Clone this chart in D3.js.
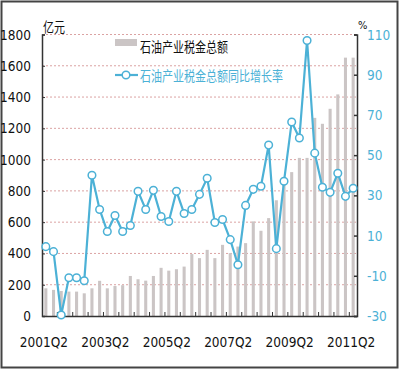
<!DOCTYPE html>
<html>
<head>
<meta charset="utf-8">
<script src="https://cdn.jsdelivr.net/npm/d3@7"></script>
<style>
  body { margin: 0; background: #fff; }
  svg { display: block; }
</style>
</head>
<body>
<svg width="400" height="370"></svg>
<script>
const quarters = [];
for (let y = 2001; y <= 2011; y++) {
    for (let q = 1; q <= 4; q++) {
        if ((y === 2001 && q < 2) || (y === 2011 && q > 2)) continue;
        quarters.push(y + "Q" + q);
    }
}

// 石油产业税金总额 (亿元)
const taxTotal = [177, 167, 160, 156, 156, 145, 177, 225, 177, 192, 197,
    256, 235, 226, 256, 308, 290, 299, 316, 396, 370, 423, 370, 455, 402,
    444, 466, 605, 545, 626, 740, 840, 920, 1011, 1011, 1267, 1229, 1325,
    1417, 1652, 1652];

// 同比增长率 (%)
const growth = [4.5, 2, -29.5, -11, -11, -12.5, 40, 23, 12, 20, 12, 15,
    32, 23, 32.5, 19.5, 17, 32, 21, 23, 30.5, 38.5, 16.5, 18, 8, -4.5, 25,
    33, 34.5, 55, 3.5, 37, 66.5, 58.5, 107, 51, 34, 31.5, 41, 29.5, 33.5];

const leftTicks = [0, 200, 400, 600, 800, 1000, 1200, 1400, 1600, 1800];
const rightTicks = [-30, -10, 10, 30, 50, 70, 90, 110];
const xLabels = ["2001Q2", "2003Q2", "2005Q2", "2007Q2", "2009Q2", "2011Q2"];

const svg = d3.select("svg");
const blue = "#4cb1d6";
const numFont = "'Liberation Sans Narrow', 'DejaVu Sans Condensed', sans-serif";
const cjkFont = "'Noto Sans CJK SC', sans-serif";

const plotL = 42, plotR = 357, plotT = 34.5, plotB = 316;

const x = d3.scaleBand().domain(quarters).range([plotL, plotR]).paddingInner(0.6).paddingOuter(0.3);
const yL = d3.scaleLinear().domain([0, 1800]).range([plotB, plotT]);
const yR = d3.scaleLinear().domain([-30, 110]).range([plotB, plotT]);
const cx = d => x(d) + x.bandwidth() / 2;

// outer frame
svg.append("rect")
    .attr("x", 1.5).attr("y", 1.5)
    .attr("width", 396).attr("height", 366)
    .attr("fill", "none")
    .attr("stroke", "#444")
    .attr("stroke-width", 2);

// grid
svg.append("g")
    .selectAll("line")
    .data(leftTicks.filter(d => d > 0))
    .join("line")
    .attr("x1", plotL).attr("x2", plotR)
    .attr("y1", d => yL(d)).attr("y2", d => yL(d))
    .attr("stroke", "#dba3a3")
    .attr("stroke-width", 1)
    .attr("stroke-dasharray", "2,2");

// bars
svg.append("g")
    .selectAll("rect")
    .data(taxTotal)
    .join("rect")
    .attr("x", (d, i) => x(quarters[i]))
    .attr("y", d => yL(d))
    .attr("width", x.bandwidth())
    .attr("height", d => plotB - yL(d))
    .attr("fill", "#cbc5c5");

// left axis
const axL = svg.append("g")
    .attr("transform", `translate(${plotL},0)`)
    .call(d3.axisRight(yL).tickValues(leftTicks).tickSize(3).tickFormat(""));
axL.select(".domain").attr("stroke", "#333").attr("stroke-width", 1.5);
axL.selectAll(".tick line").attr("stroke", "#333");

svg.append("g")
    .selectAll("text")
    .data(leftTicks)
    .join("text")
    .attr("x", 31)
    .attr("y", d => yL(d) + 5)
    .attr("text-anchor", "end")
    .attr("font-family", numFont)
    .attr("font-size", 13.5)
    .attr("fill", "#111")
    .text(d => d);

// right axis
const axR = svg.append("g")
    .attr("transform", `translate(${plotR},0)`)
    .call(d3.axisLeft(yR).tickValues(rightTicks).tickSize(3).tickFormat(""));
axR.select(".domain").attr("stroke", "#333").attr("stroke-width", 1.5);
axR.selectAll(".tick line").attr("stroke", "#333").attr("stroke-width", 1.5);

svg.append("g")
    .selectAll("text")
    .data(rightTicks)
    .join("text")
    .attr("x", 367)
    .attr("y", d => yR(d) + 5)
    .attr("font-family", numFont)
    .attr("font-size", 13.5)
    .attr("fill", blue)
    .text(d => d);

// bottom axis
const evenQuarters = quarters.filter((d, i) => i % 2 === 0);
const axB = svg.append("g")
    .attr("transform", `translate(0,${plotB})`)
    .call(d3.axisTop(x).tickValues([]).tickSizeOuter(0));
axB.select(".domain").attr("stroke", "#333").attr("stroke-width", 1.5);
axB.selectAll(".qt")
    .data(evenQuarters.slice(1))
    .join("line")
    .attr("class", "qt")
    .attr("x1", d => x(d) - x.step() * x.paddingInner() / 2)
    .attr("x2", d => x(d) - x.step() * x.paddingInner() / 2)
    .attr("y1", 0).attr("y2", -4)
    .attr("stroke", "#333");

svg.append("g")
    .selectAll("text")
    .data(xLabels)
    .join("text")
    .attr("x", d => cx(d) - 2)
    .attr("y", 347)
    .attr("text-anchor", "middle")
    .attr("font-family", numFont)
    .attr("font-size", 13.5)
    .attr("fill", "#111")
    .text(d => d);

// growth line
const line = d3.line()
    .x((d, i) => cx(quarters[i]))
    .y(d => yR(d));

svg.append("path")
    .datum(growth)
    .attr("fill", "none")
    .attr("stroke", blue)
    .attr("stroke-width", 2.2)
    .attr("d", line);

svg.append("g")
    .selectAll("circle")
    .data(growth)
    .join("circle")
    .attr("cx", (d, i) => cx(quarters[i]))
    .attr("cy", d => yR(d))
    .attr("r", 3.8)
    .attr("fill", "#fff")
    .attr("stroke", blue)
    .attr("stroke-width", 1.5);

// unit labels
svg.append("text")
    .attr("x", 43).attr("y", 32)
    .attr("font-family", cjkFont)
    .attr("font-size", 14)
    .attr("textLength", 22)
    .attr("lengthAdjust", "spacingAndGlyphs")
    .attr("fill", "#111")
    .text("亿元");

svg.append("text")
    .attr("x", 358).attr("y", 29)
    .attr("font-family", numFont)
    .attr("font-size", 11)
    .attr("fill", "#111")
    .text("%");

// legend
svg.append("rect")
    .attr("x", 115).attr("y", 39)
    .attr("width", 22).attr("height", 7)
    .attr("fill", "#cbc5c5");

svg.append("text")
    .attr("x", 140).attr("y", 52)
    .attr("font-family", cjkFont)
    .attr("font-size", 14)
    .attr("textLength", 88)
    .attr("lengthAdjust", "spacingAndGlyphs")
    .attr("fill", "#111")
    .text("石油产业税金总额");

svg.append("line")
    .attr("x1", 115).attr("x2", 138)
    .attr("y1", 75).attr("y2", 75)
    .attr("stroke", blue)
    .attr("stroke-width", 2.2);

svg.append("circle")
    .attr("cx", 126).attr("cy", 75)
    .attr("r", 3.8)
    .attr("fill", "#fff")
    .attr("stroke", blue)
    .attr("stroke-width", 1.5);

svg.append("text")
    .attr("x", 140).attr("y", 81)
    .attr("font-family", cjkFont)
    .attr("font-size", 14)
    .attr("textLength", 143)
    .attr("lengthAdjust", "spacingAndGlyphs")
    .attr("fill", blue)
    .text("石油产业税金总额同比增长率");
</script>
</body>
</html>
